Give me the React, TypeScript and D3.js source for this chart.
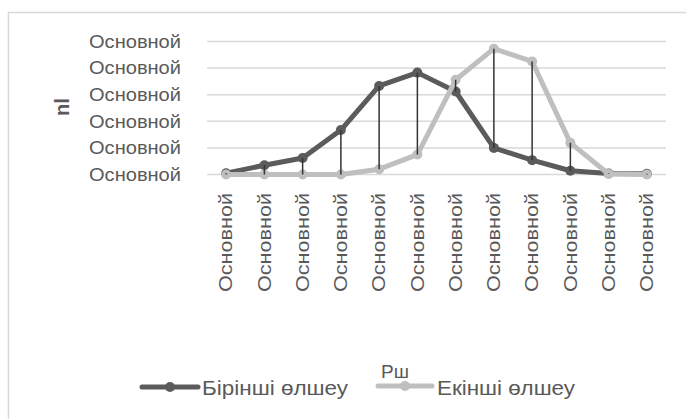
import React from "react";
import * as d3 from "d3";

const categories = ["Основной","Основной","Основной","Основной","Основной","Основной","Основной","Основной","Основной","Основной","Основной","Основной"];
const firstSeries = [0.05, 0.35, 0.62, 1.67, 3.33, 3.83, 3.12, 1.0, 0.54, 0.14, 0.04, 0.03];
const secondSeries = [0, 0, 0, 0, 0.2, 0.75, 3.56, 4.73, 4.25, 1.19, 0.02, 0];
const yTickValues = [0, 1, 2, 3, 4, 5];
const yTickLabels = ["Основной","Основной","Основной","Основной","Основной","Основной"];
const seriesNames = ["Бірінші өлшеу", "Екінші өлшеу"];
const yTitle = "nl";
const xTitle = "Рш";

const FONT = "'Liberation Sans', Arial, sans-serif";
const DARK = "#5b5b5b";
const LIGHT = "#bfbfbf";
const TEXT = "#595959";

export default function App() {
  const idx = categories.map((_, i) => i);
  const x = d3.scaleBand<number>().domain(idx).range([207, 666]);
  const y = d3.scaleLinear().domain([0, 5]).range([174.5, 41.5]);
  const cx = (i: number) => (x(i) as number) + x.bandwidth() / 2;
  const line = d3.line<number>().x((_, i) => cx(i)).y((d) => y(d));

  return (
    <svg width={686} height={419} style={{ position: "absolute", left: 0, top: 0, background: "#fff" }}>
      <rect x={8.5} y={12.5} width={700} height={420} fill="#fff" stroke="#d9d9d9" strokeWidth={1.5} />
      {yTickValues.map((v, i) => (
        <g key={"g" + i}>
          <line x1={207} x2={666} y1={y(v)} y2={y(v)} stroke="#d9d9d9" strokeWidth={1.5} />
          <text x={181} y={y(v)} dy="0.36em" textAnchor="end" fontFamily={FONT} fontSize={17.5} fill={TEXT}
            textLength={92} lengthAdjust="spacingAndGlyphs">{yTickLabels[i]}</text>
        </g>
      ))}
      {categories.map((c, i) => (
        <text key={"x" + i} transform={`translate(${cx(i)},193) rotate(-90)`} textAnchor="end" dy="0.36em"
          fontFamily={FONT} fontSize={17.5} fill={TEXT} textLength={99} lengthAdjust="spacingAndGlyphs">{c}</text>
      ))}
      <text transform="translate(62,107) rotate(-90)" textAnchor="middle" dy="0.36em" fontFamily={FONT}
        fontSize={20} fontWeight="bold" fill={TEXT}>{yTitle}</text>
      <text x={395} y={378} textAnchor="middle" fontFamily={FONT} fontSize={19} fill={TEXT}>{xTitle}</text>

      <path d={line(firstSeries) || ""} fill="none" stroke={DARK} strokeWidth={5} strokeLinejoin="round" />
      {firstSeries.map((v, i) => (
        <circle key={"a" + i} cx={cx(i)} cy={y(v)} r={5} fill={DARK} />
      ))}
      <path d={line(secondSeries) || ""} fill="none" stroke={LIGHT} strokeWidth={5} strokeLinejoin="round" />
      {secondSeries.map((v, i) => (
        <circle key={"b" + i} cx={cx(i)} cy={y(v)} r={5} fill={LIGHT} />
      ))}
      {firstSeries.map((v, i) => (
        <line key={"h" + i} x1={cx(i)} x2={cx(i)} y1={y(Math.max(v, secondSeries[i]))}
          y2={y(Math.min(v, secondSeries[i]))} stroke="#333" strokeWidth={1.5} />
      ))}

      <g>
        <line x1={142} x2={198} y1={387} y2={387} stroke={DARK} strokeWidth={5} strokeLinecap="round" />
        <circle cx={170} cy={387} r={5} fill={DARK} />
        <text x={202} y={395} fontFamily={FONT} fontSize={20} fill={TEXT} textLength={146} lengthAdjust="spacingAndGlyphs">{seriesNames[0]}</text>
        <line x1={378} x2={432} y1={386} y2={386} stroke={LIGHT} strokeWidth={5} strokeLinecap="round" />
        <circle cx={405} cy={386} r={5} fill={LIGHT} />
        <text x={437} y={395} fontFamily={FONT} fontSize={20} fill={TEXT} textLength={138} lengthAdjust="spacingAndGlyphs">{seriesNames[1]}</text>
      </g>
    </svg>
  );
}
